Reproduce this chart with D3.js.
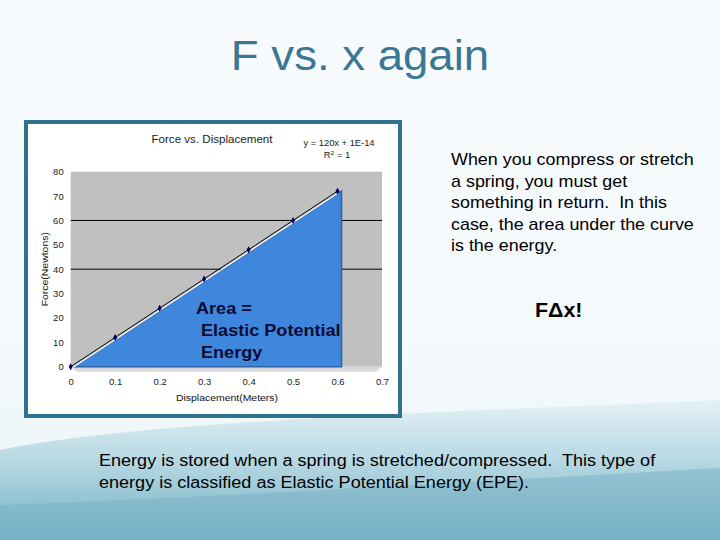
<!DOCTYPE html>
<html>
<head>
<meta charset="utf-8">
<script src="https://cdn.jsdelivr.net/npm/d3@7"></script>
<style>
  body { margin: 0; }
  svg { display: block; font-family: Arial, "Liberation Sans", sans-serif; }
</style>
</head>
<body>
<div class="slide"></div>
<script>
// ---------------------------//
//            DATA            //
// ---------------------------//
const displacement = [0, 0.1, 0.2, 0.3, 0.4, 0.5, 0.6];
const force        = [0, 12, 24, 36, 48, 60, 72];
const xTicks = [0, 0.1, 0.2, 0.3, 0.4, 0.5, 0.6, 0.7];
const yTicks = [0, 10, 20, 30, 40, 50, 60, 70, 80];
const gridValues = [40, 60];

const sideText = ["When you compress or stretch", "a spring, you must get",
    "something in return.  In this", "case, the area under the curve", "is the energy."];
const bottomText = ["Energy is stored when a spring is stretched/compressed.  This type of",
    "energy is classified as Elastic Potential Energy (EPE)."];
const areaText = ["Area =", " Elastic Potential", " Energy"];

const points = displacement.map((d, i) => ({x: d, y: force[i]}));

const W = 720, H = 540;
const SX = 1.12; // the slide text is drawn a bit wide
const svg = d3.select(".slide").append("svg")
    .attr("width", W)
    .attr("height", H);

// put a text at x,y with the horizontal stretch
function place(sel, x, y, k) {
    return sel.attr("transform", `translate(${x},${y}) scale(${k || SX},1)`);
}

// ---------------------------//
//         BACKGROUND         //
// ---------------------------//
const defs = svg.append("defs");
const bg = defs.append("linearGradient").attr("id", "bg")
    .attr("x1", 0).attr("y1", 0).attr("x2", 0).attr("y2", 1);
bg.append("stop").attr("offset", "0%").attr("stop-color", "#f8fbfd");
bg.append("stop").attr("offset", "70%").attr("stop-color", "#f3f9fb");
bg.append("stop").attr("offset", "100%").attr("stop-color", "#e6f2f6");
svg.append("rect").attr("width", W).attr("height", H).attr("fill", "url(#bg)");

const wave = defs.append("linearGradient").attr("id", "wave")
    .attr("x1", 0).attr("y1", 0).attr("x2", 0).attr("y2", 1);
wave.append("stop").attr("offset", "0%").attr("stop-color", "#e4f1f5");
wave.append("stop").attr("offset", "45%").attr("stop-color", "#b5d7e2");
wave.append("stop").attr("offset", "100%").attr("stop-color", "#72b0c4");
svg.append("path")
    .attr("d", "M0,450 C150,418 520,410 720,400 L720,540 L0,540 Z")
    .attr("fill", "url(#wave)");
svg.append("path")
    .attr("d", "M0,505 C200,498 500,480 720,468 L720,540 L0,540 Z")
    .attr("fill", "#78b2c6").attr("opacity", 0.5);

// title
place(svg.append("text"), 360, 70, 1.085)
    .attr("text-anchor", "middle")
    .attr("font-size", 42)
    .attr("fill", "#3b7792")
    .text("F vs. x again");

// ---------------------------//
//        CHART FRAME         //
// ---------------------------//
svg.append("rect")
    .attr("x", 26).attr("y", 122)
    .attr("width", 374).attr("height", 294)
    .attr("fill", "#ffffff")
    .attr("stroke", "#2f7391")
    .attr("stroke-width", 4);

const xScale = d3.scaleLinear().domain([0, 0.7]).range([70.7, 382]);
const yScale = d3.scaleLinear().domain([0, 80]).range([366.7, 171.7]);

// floor strip under the plot
svg.append("path")
    .attr("d", `M${xScale(0)},${yScale(0)} L${xScale(0.7)},${yScale(0)} L${xScale(0.7) - 6},${yScale(0) + 5} L${xScale(0) + 6},${yScale(0) + 5} Z`)
    .attr("fill", "#d9d9d9");

svg.append("rect")
    .attr("x", xScale(0)).attr("y", yScale(80))
    .attr("width", xScale(0.7) - xScale(0))
    .attr("height", yScale(0) - yScale(80))
    .attr("fill", "#c0c0c0");

svg.selectAll(".grid")
    .data(gridValues)
    .enter().append("line")
    .attr("x1", xScale(0)).attr("x2", xScale(0.7))
    .attr("y1", d => yScale(d)).attr("y2", d => yScale(d))
    .attr("stroke", "#000").attr("stroke-width", 1);

// axes (labels only)
const yAxis = svg.append("g")
    .attr("transform", `translate(${xScale(0) - 4},0)`)
    .call(d3.axisLeft(yScale).tickValues(yTicks).tickSize(0).tickFormat(d3.format("d")));
yAxis.select(".domain").remove();
yAxis.selectAll("text").attr("font-size", 9.5).attr("fill", "#222").attr("font-family", "Arial");

const xAxis = svg.append("g")
    .attr("transform", `translate(0,${yScale(0) + 9})`)
    .call(d3.axisBottom(xScale).tickValues(xTicks).tickSize(0).tickFormat(d => d === 0 ? "0" : d3.format(".1f")(d)));
xAxis.select(".domain").remove();
xAxis.selectAll("text").attr("font-size", 9.5).attr("fill", "#222").attr("font-family", "Arial");

// chart titles
place(svg.append("text"), 212, 143, 1.16)
    .attr("text-anchor", "middle")
    .attr("font-size", 10).attr("fill", "#222")
    .text("Force vs. Displacement");
place(svg.append("text"), 339, 146, 1.1)
    .attr("text-anchor", "middle")
    .attr("font-size", 8.5).attr("fill", "#222")
    .text("y = 120x + 1E-14");
const r2 = place(svg.append("text"), 337, 158, 1.1)
    .attr("text-anchor", "middle")
    .attr("font-size", 8.5).attr("fill", "#222");
r2.append("tspan").text("R");
r2.append("tspan").attr("dy", -3).attr("font-size", 6).text("2");
r2.append("tspan").attr("dy", 3).text(" = 1");

place(svg.append("text"), 227, 401, 1.1)
    .attr("text-anchor", "middle")
    .attr("font-size", 9.5).attr("fill", "#111")
    .text("Displacement(Meters)");
svg.append("text")
    .attr("transform", `translate(48,${(yScale(0) + yScale(80)) / 2}) rotate(-90) scale(1.1,1)`)
    .attr("text-anchor", "middle")
    .attr("font-size", 9.5).attr("fill", "#111")
    .text("Force(Newtons)");

// ---------------------------//
//       AREA AND LINE        //
// ---------------------------//
const area = d3.area()
    .x(d => xScale(d.x))
    .y0(yScale(0))
    .y1(d => yScale(d.y));

svg.append("path")
    .datum(points)
    .attr("transform", "translate(4,0)")
    .attr("d", d => area(d) + "Z")
    .attr("fill", "#3f87dc")
    .attr("stroke", "#2d62a6")
    .attr("stroke-width", 1.5);

const line = d3.line().x(d => xScale(d.x)).y(d => yScale(d.y));
svg.append("path")
    .datum(points)
    .attr("transform", "translate(1,1.5)")
    .attr("d", line)
    .attr("fill", "none")
    .attr("stroke", "#ffffff")
    .attr("stroke-width", 1.2);
svg.append("path")
    .datum(points)
    .attr("d", line)
    .attr("fill", "none")
    .attr("stroke", "#000")
    .attr("stroke-width", 1);

svg.selectAll(".pt")
    .data(points)
    .enter().append("path")
    .attr("d", d3.symbol().type(d3.symbolDiamond).size(14))
    .attr("transform", d => `translate(${xScale(d.x)},${yScale(d.y)})`)
    .attr("fill", "#000066");

// area label
svg.append("g").selectAll("text")
    .data(areaText)
    .enter().append("text")
    .attr("transform", (d, i) => `translate(196,${314 + i * 22}) scale(1.13,1)`)
    .attr("font-size", 16).attr("font-weight", "bold").attr("fill", "#0b0b33")
    .style("white-space", "pre")
    .text(d => d);

// ---------------------------//
//        SLIDE TEXTS         //
// ---------------------------//
svg.append("g").selectAll("text")
    .data(sideText)
    .enter().append("text")
    .attr("transform", (d, i) => `translate(451,${165 + i * 21.6}) scale(${SX},1)`)
    .attr("font-size", 16).attr("fill", "#000")
    .style("white-space", "pre")
    .text(d => d);

place(svg.append("text"), 535, 317, 1.07)
    .attr("font-size", 20).attr("font-weight", "bold").attr("fill", "#000")
    .text("F\u0394x!");

svg.append("g").selectAll("text")
    .data(bottomText)
    .enter().append("text")
    .attr("transform", (d, i) => `translate(99,${466 + i * 22}) scale(1.128,1)`)
    .attr("font-size", 16).attr("fill", "#000")
    .style("white-space", "pre")
    .text(d => d);
</script>
</body>
</html>
